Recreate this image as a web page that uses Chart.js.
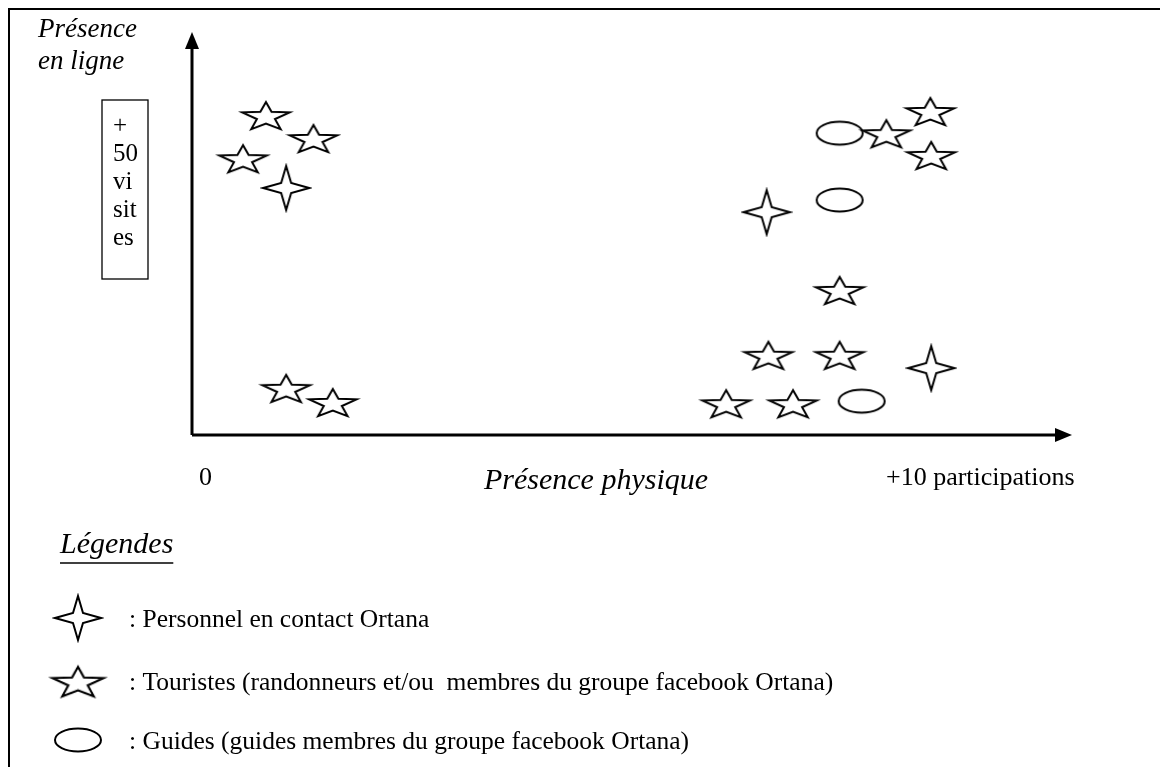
<!DOCTYPE html>
<html>
<head>
<meta charset="utf-8">
<script src="https://cdn.jsdelivr.net/npm/chart.js@4.4.0/dist/chart.umd.min.js"></script>
<style>
  html, body { margin: 0; padding: 0; background: #fff; }
  #wrap { width: 1160px; height: 767px; }
</style>
</head>
<body>
<div id="wrap"><canvas id="scatter"></canvas></div>
<script>
const personnel = [
  { x: 10.7, y: 61.3 },
  { x: 65.3, y: 55.3 },
  { x: 84.0, y: 16.6 }
];
const touristes = [
  { x: 8.4, y: 79.4 },
  { x: 13.8, y: 73.7 },
  { x: 5.8, y: 68.7 },
  { x: 83.9, y: 80.4 },
  { x: 78.9, y: 74.9 },
  { x: 84.0, y: 69.5 },
  { x: 73.6, y: 36.0 },
  { x: 65.5, y: 19.9 },
  { x: 73.6, y: 19.9 },
  { x: 10.7, y: 11.7 },
  { x: 16.0, y: 8.2 },
  { x: 60.7, y: 7.9 },
  { x: 68.3, y: 7.9 }
];
const guides = [
  { x: 73.6, y: 74.9 },
  { x: 73.6, y: 58.3 },
  { x: 76.1, y: 8.4 }
];
const legendLabels = [
  ': Personnel en contact Ortana',
  ': Touristes (randonneurs et/ou  membres du groupe facebook Ortana)',
  ': Guides (guides membres du groupe facebook Ortana)'
];
const xTickLabels = ['0', '+10 participations'];
const yBoxLabels = ['+', '50', 'vi', 'sit', 'es'];

const serif = '"Liberation Serif", "DejaVu Serif", serif';

// --- symboles dessinés sur des petits canvas ---
function makeCanvas(w, h, draw) {
  const c = document.createElement('canvas');
  c.width = w; c.height = h;
  const g = c.getContext('2d');
  g.strokeStyle = '#000';
  g.fillStyle = '#fff';
  g.lineWidth = 2;
  g.lineJoin = 'miter';
  g.miterLimit = 10;
  draw(g, w, h);
  return c;
}

const star4 = makeCanvas(52, 50, (g, w, h) => {
  const cx = w / 2, cy = h / 2, rx = 23, ry = 22, r = 5;
  const pts = [
    [cx, cy - ry], [cx + r, cy - r], [cx + rx, cy], [cx + r, cy + r],
    [cx, cy + ry], [cx - r, cy + r], [cx - rx, cy], [cx - r, cy - r]
  ];
  g.beginPath();
  pts.forEach((p, i) => (i ? g.lineTo(p[0], p[1]) : g.moveTo(p[0], p[1])));
  g.closePath();
  g.fill(); g.stroke();
});

const star5 = makeCanvas(56, 34, (g, w, h) => {
  const cx = w / 2, cy = h / 2 + 2;
  const ox = 25, oy = 15, ix = 9.5, iy = 6.5;
  g.beginPath();
  for (let i = 0; i < 10; i++) {
    const a = -Math.PI / 2 + i * Math.PI / 5;
    const rx = i % 2 === 0 ? ox : ix;
    const ry = i % 2 === 0 ? oy : iy;
    const px = cx + rx * Math.cos(a), py = cy + ry * Math.sin(a);
    if (i === 0) g.moveTo(px, py); else g.lineTo(px, py);
  }
  g.closePath();
  g.fill(); g.stroke();
});

const ellipse = makeCanvas(52, 28, (g, w, h) => {
  g.beginPath();
  g.ellipse(w / 2, h / 2, 23, 11.5, 0, 0, Math.PI * 2);
  g.fill(); g.stroke();
});

const symbols = [star4, star5, ellipse];

// --- décor : cadre, flèches, textes, légende ---
const decor = {
  id: 'decor',
  beforeDraw(chart) {
    const { ctx, chartArea: a } = chart;
    ctx.save();
    ctx.fillStyle = '#fff';
    ctx.fillRect(0, 0, chart.width, chart.height);
    ctx.strokeStyle = '#000';
    ctx.lineWidth = 2;
    ctx.beginPath();
    ctx.moveTo(9, chart.height);
    ctx.lineTo(9, 9);
    ctx.lineTo(chart.width, 9);
    ctx.stroke();

    // axes avec flèches
    ctx.lineWidth = 3;
    ctx.beginPath();
    ctx.moveTo(a.left, a.bottom);
    ctx.lineTo(a.left, a.top + 14);
    ctx.moveTo(a.left, a.bottom);
    ctx.lineTo(a.right - 14, a.bottom);
    ctx.stroke();
    ctx.fillStyle = '#000';
    ctx.beginPath();
    ctx.moveTo(a.left, a.top);
    ctx.lineTo(a.left - 7, a.top + 17);
    ctx.lineTo(a.left + 7, a.top + 17);
    ctx.closePath();
    ctx.fill();
    ctx.beginPath();
    ctx.moveTo(a.right, a.bottom);
    ctx.lineTo(a.right - 17, a.bottom - 7);
    ctx.lineTo(a.right - 17, a.bottom + 7);
    ctx.closePath();
    ctx.fill();

    // titre de l'axe vertical
    ctx.font = 'italic 27px ' + serif;
    ctx.textAlign = 'left';
    ctx.textBaseline = 'alphabetic';
    ctx.fillText('Présence', 38, 37);
    ctx.fillText('en ligne', 38, 69);

    // encadré +50 visites
    ctx.lineWidth = 1.3;
    ctx.strokeRect(102, 100, 46, 179);
    ctx.font = '25px ' + serif;
    yBoxLabels.forEach((t, i) => {
      ctx.fillText(t, 113, 133 + i * 28);
    });

    // étiquettes de l'axe horizontal
    ctx.font = '26px ' + serif;
    ctx.fillText(xTickLabels[0], 199, 485);
    ctx.fillText(xTickLabels[1], 886, 485);
    ctx.font = 'italic 30px ' + serif;
    ctx.fillText('Présence physique', 484, 489);

    // légende
    ctx.font = 'italic 30px ' + serif;
    ctx.fillText('Légendes', 60, 553);
    const w = ctx.measureText('Légendes').width;
    ctx.lineWidth = 1.3;
    ctx.beginPath();
    ctx.moveTo(60, 563);
    ctx.lineTo(60 + w, 563);
    ctx.stroke();

    ctx.font = '25.5px ' + serif;
    const rows = [618, 681, 740];
    const sizes = [[52, 50], [60, 37], [52, 28]];
    legendLabels.forEach((t, i) => {
      const [sw, sh] = sizes[i];
      ctx.drawImage(symbols[i], 78 - sw / 2, rows[i] - sh / 2, sw, sh);
      ctx.fillText(t, 129, rows[i] + 9);
    });
    ctx.restore();
  }
};

new Chart(document.getElementById('scatter'), {
  type: 'scatter',
  data: {
    datasets: [
      { label: 'Personnel en contact Ortana', data: personnel, pointStyle: star4 },
      { label: 'Touristes', data: touristes, pointStyle: star5 },
      { label: 'Guides', data: guides, pointStyle: ellipse }
    ]
  },
  options: {
    responsive: true,
    maintainAspectRatio: false,
    animation: false,
    layout: { padding: { left: 192, right: 88, top: 32, bottom: 332 } },
    scales: {
      x: { display: false, min: 0, max: 100 },
      y: { display: false, min: 0, max: 100 }
    },
    plugins: {
      legend: { display: false },
      tooltip: { enabled: false }
    }
  },
  plugins: [decor]
});
</script>
</body>
</html>
